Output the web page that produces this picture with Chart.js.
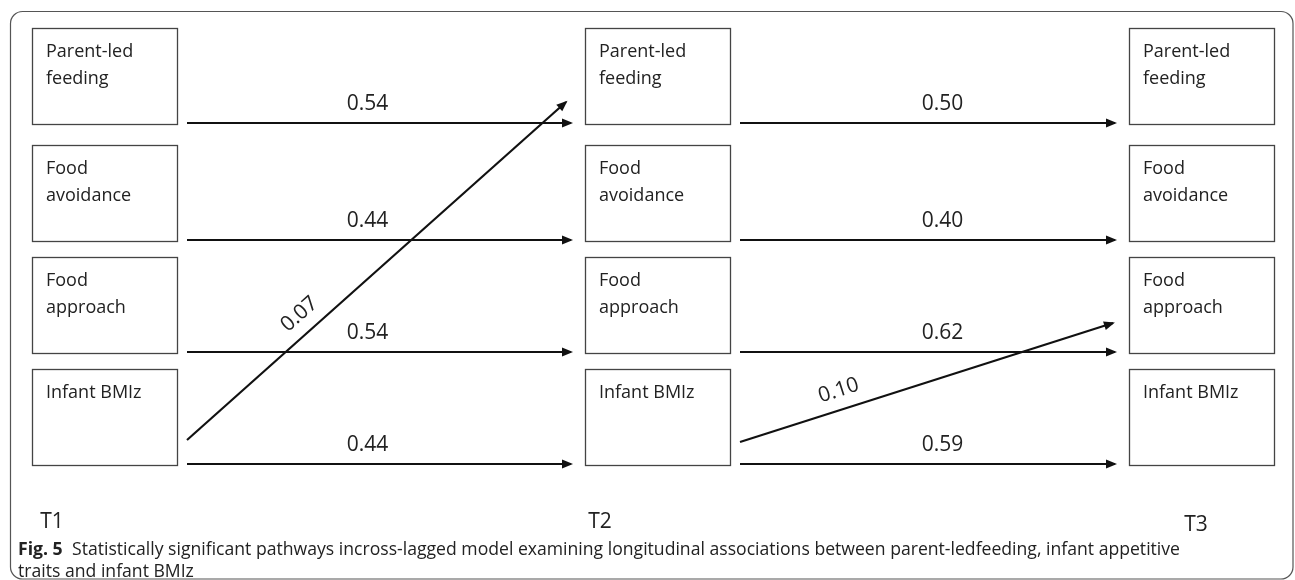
<!DOCTYPE html>
<html>
<head>
<meta charset="utf-8">
<script src="https://cdn.jsdelivr.net/npm/chart.js@4/dist/chart.umd.min.js"></script>
<style>
html, body { margin: 0; padding: 0; background: #fff; }
#wrap { position: relative; width: 1295px; height: 580px; }
</style>
</head>
<body>
<div id="wrap"><canvas id="pathChart" width="1295" height="580"></canvas></div>
<script>
// time points and measured variables
const waves = ['T1', 'T2', 'T3'];
const measures = [['Parent-led', 'feeding'], ['Food', 'avoidance'], ['Food', 'approach'], ['Infant BMIz']];

// autoregressive paths (same measure, next wave)
const stabilityT1T2 = [0.54, 0.44, 0.54, 0.44];
const stabilityT2T3 = [0.50, 0.40, 0.62, 0.59];

// cross-lagged paths: [wave, measure] -> [wave, measure]
const crossFrom = [[0, 3], [1, 3]];
const crossTo = [[1, 0], [2, 2]];
const crossCoef = [0.07, 0.10];

const figNo = 'Fig. 5';
const caption = [
    'Statistically significant pathways incross-lagged model examining longitudinal associations between parent-ledfeeding, infant appetitive',
    'traits and infant BMIz'
];

// layout (diagram units == canvas px)
const colLeft = [32, 585, 1129];
const boxW = 145;
const rowTop = [28, 145, 257, 369];
const boxH = 96;
const gapStart = 10, gapEnd = 14;
const crossStartDy = [71, 73];
const crossEndDy = [74, 66];
const crossEndGap = [19, 16];
const waveLabelX = [52, 600, 1196];
const waveLabelY = [522, 522, 525];

const fmt = v => v.toFixed(2);

let pathSets = [];

// stability arrows
[stabilityT1T2, stabilityT2T3].forEach((coefs, w) => {
    coefs.forEach((c, m) => {
        let y = rowTop[m] + boxH - 1;
        pathSets.push({
            data: [{x: colLeft[w] + boxW + gapStart, y: y}, {x: colLeft[w + 1] - gapEnd, y: y}],
            coef: c,
            labelT: w === 0 ? 0.47 : 0.54,
            labelOff: 19
        });
    });
});

// cross-lagged arrows
crossCoef.forEach((c, i) => {
    let [fw, fm] = crossFrom[i];
    let [tw, tm] = crossTo[i];
    pathSets.push({
        data: [
            {x: colLeft[fw] + boxW + gapStart, y: rowTop[fm] + crossStartDy[i]},
            {x: colLeft[tw] - crossEndGap[i], y: rowTop[tm] + crossEndDy[i]}
        ],
        coef: c,
        labelT: i === 0 ? 0.33 : 0.28,
        labelOff: 19
    });
});

let datasets = pathSets.map(p => ({
    type: 'line',
    data: p.data,
    coef: p.coef,
    labelT: p.labelT,
    labelOff: p.labelOff,
    borderColor: '#111',
    borderWidth: 2.2,
    pointRadius: 0,
    fill: false,
    tension: 0
}));

let diagramPlugin = {
    id: 'diagram',
    beforeDatasetsDraw(chart) {
        let ctx = chart.ctx;
        let xs = chart.scales.x, ys = chart.scales.y;
        let px = v => xs.getPixelForValue(v);
        let py = v => ys.getPixelForValue(v);

        // outer frame
        ctx.save();
        ctx.strokeStyle = '#555';
        ctx.lineWidth = 1.2;
        ctx.beginPath();
        ctx.roundRect(px(10.5), py(11.5), px(1293) - px(10.5), py(579) - py(11.5), 12);
        ctx.stroke();

        // boxes
        ctx.strokeStyle = '#444';
        ctx.lineWidth = 1.3;
        ctx.fillStyle = '#222';
        ctx.font = '18px "Open Sans"';
        ctx.textBaseline = 'alphabetic';
        ctx.textAlign = 'left';
        waves.forEach((w, wi) => {
            measures.forEach((lines, mi) => {
                let x0 = px(colLeft[wi]), y0 = py(rowTop[mi]);
                ctx.strokeRect(x0 + 0.5, y0 + 0.5, px(colLeft[wi] + boxW) - x0, py(rowTop[mi] + boxH) - y0);
                lines.forEach((t, li) => {
                    ctx.fillText(t, x0 + 14, y0 + 29 + li * 27);
                });
            });
        });
        ctx.restore();
    },
    afterDatasetsDraw(chart) {
        let ctx = chart.ctx;
        let xs = chart.scales.x, ys = chart.scales.y;
        ctx.save();
        chart.data.datasets.forEach(ds => {
            let a = ds.data[0], b = ds.data[1];
            let x1 = xs.getPixelForValue(a.x), y1 = ys.getPixelForValue(a.y);
            let x2 = xs.getPixelForValue(b.x), y2 = ys.getPixelForValue(b.y);
            let ang = Math.atan2(y2 - y1, x2 - x1);

            // arrow head
            ctx.fillStyle = '#111';
            ctx.beginPath();
            ctx.moveTo(x2 + Math.cos(ang) * 2, y2 + Math.sin(ang) * 2);
            ctx.lineTo(x2 - Math.cos(ang) * 9 - Math.sin(ang) * 4.5, y2 - Math.sin(ang) * 9 + Math.cos(ang) * 4.5);
            ctx.lineTo(x2 - Math.cos(ang) * 9 + Math.sin(ang) * 4.5, y2 - Math.sin(ang) * 9 - Math.cos(ang) * 4.5);
            ctx.closePath();
            ctx.fill();

            // coefficient label
            let cx = x1 + (x2 - x1) * ds.labelT + Math.sin(ang) * ds.labelOff;
            let cy = y1 + (y2 - y1) * ds.labelT - Math.cos(ang) * ds.labelOff;
            ctx.save();
            ctx.translate(cx, cy);
            ctx.rotate(ang);
            ctx.fillStyle = '#222';
            ctx.font = '21px "Open Sans"';
            ctx.textAlign = 'center';
            ctx.textBaseline = 'middle';
            ctx.fillText(fmt(ds.coef), 0, 0);
            ctx.restore();
        });

        // wave labels
        ctx.fillStyle = '#222';
        ctx.font = '21px "Open Sans"';
        ctx.textAlign = 'center';
        ctx.textBaseline = 'middle';
        waves.forEach((w, i) => {
            ctx.fillText(w, xs.getPixelForValue(waveLabelX[i]), ys.getPixelForValue(waveLabelY[i]));
        });

        // caption, condensed horizontally so line one ends near x=1180
        ctx.textAlign = 'left';
        ctx.textBaseline = 'alphabetic';
        ctx.font = '18px "Open Sans"';
        let sx = 1108 / ctx.measureText(caption[0]).width;
        ctx.save();
        ctx.scale(sx, 1);
        ctx.font = 'bold 18px "Open Sans"';
        ctx.fillText(figNo, 18 / sx, 555);
        ctx.font = '18px "Open Sans"';
        ctx.fillText(caption[0], 72 / sx, 555);
        ctx.fillText(caption[1], 18 / sx, 577);
        ctx.restore();
        ctx.restore();
    }
};

let pathChart = new Chart(document.getElementById('pathChart').getContext('2d'), {
    type: 'scatter',
    data: { datasets: datasets },
    options: {
        responsive: false,
        animation: false,
        layout: { padding: 0 },
        plugins: { legend: { display: false }, tooltip: { enabled: false } },
        scales: {
            x: { type: 'linear', min: 0, max: 1295, display: false },
            y: { type: 'linear', min: 0, max: 580, reverse: true, display: false }
        }
    },
    plugins: [diagramPlugin]
});
</script>
</body>
</html>
